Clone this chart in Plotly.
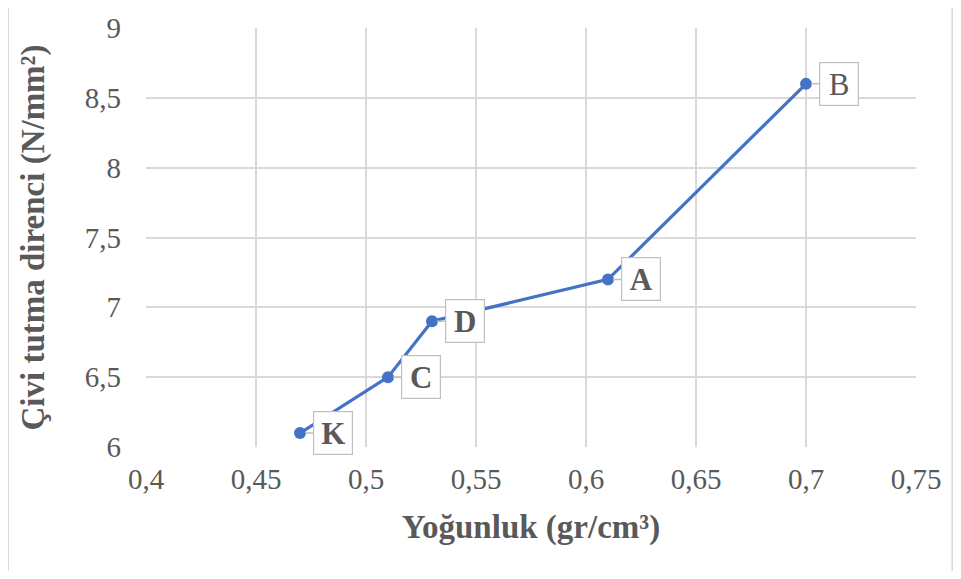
import plotly.graph_objects as go

density = [0.47, 0.51, 0.53, 0.61, 0.70]
strength = [6.1, 6.5, 6.9, 7.2, 8.6]
labels = ["K", "C", "D", "A", "B"]
label_bold = [True, True, True, True, False]

x_ticks = [0.40, 0.45, 0.50, 0.55, 0.60, 0.65, 0.70, 0.75]
x_ticktext = ["0,4", "0,45", "0,5", "0,55", "0,6", "0,65", "0,7", "0,75"]
y_ticks = [6, 6.5, 7, 7.5, 8, 8.5, 9]
y_ticktext = ["6", "6,5", "7", "7,5", "8", "8,5", "9"]

FONT = "Liberation Serif"
GREY = "#595959"

fig = go.Figure()
fig.add_trace(go.Scatter(
    x=density, y=strength, mode="lines+markers",
    line=dict(color="#4472C4", width=3.2),
    marker=dict(color="#4472C4", size=12),
    showlegend=False, hoverinfo="skip",
))

for xv, yv, lab, b in zip(density, strength, labels, label_bold):
    fig.add_annotation(
        x=xv, y=yv, text=f"<b>{lab}</b>" if b else lab,
        showarrow=True, arrowhead=0, arrowwidth=1.5, arrowcolor="#bfbfbf",
        ax=33, ay=0, standoff=5,
        width=32, height=36, align="center", valign="middle",
        bgcolor="white", bordercolor="#bfbfbf", borderwidth=1.2, borderpad=3,
        font=dict(family=FONT, size=31, color=GREY),
    )

# outer chart border (figure drawn at an 8px page offset)
fig.add_shape(type="rect", xref="paper", yref="paper",
              x0=-0.179, x1=1.047, y0=-0.305, y1=1.05,
              line=dict(color="#d9d9d9", width=1.5), layer="below")

fig.update_layout(
    width=945, height=563,
    margin=dict(l=138, r=37, t=20, b=124),
    plot_bgcolor="white", paper_bgcolor="white",
    font=dict(family=FONT, size=29, color=GREY),
    xaxis=dict(
        range=[0.4, 0.75], tickvals=x_ticks, ticktext=x_ticktext,
        showgrid=True, gridcolor="#d9d9d9", gridwidth=1.5, zeroline=False,
        showline=False, ticks="", ticklabelstandoff=12, automargin=False,
        tickfont=dict(family=FONT, size=29, color=GREY),
        title=dict(text="<b>Yoğunluk (gr/cm³)</b>", font=dict(family=FONT, size=33, color=GREY), standoff=20),
    ),
    yaxis=dict(
        range=[6, 9], tickvals=y_ticks, ticktext=y_ticktext,
        showgrid=True, gridcolor="#d9d9d9", gridwidth=1.5, zeroline=False,
        showline=False, ticks="", ticklabelstandoff=24, automargin=False,
        tickfont=dict(family=FONT, size=29, color=GREY),
        title=dict(text="<b>Çivi tutma direnci (N/mm²)</b>", font=dict(family=FONT, size=33, color=GREY), standoff=30),
    ),
)

fig.write_html("out.html")
